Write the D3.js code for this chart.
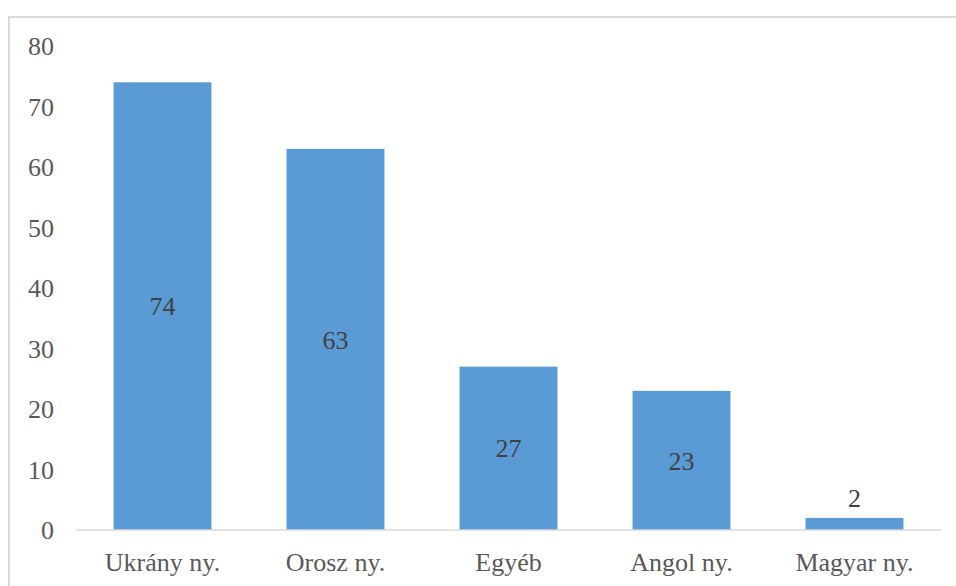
<!DOCTYPE html>
<html>
<head>
<meta charset="utf-8">
<script src="https://cdn.jsdelivr.net/npm/d3@7"></script>
<style>
  body { margin: 0; background: #fff; }
  svg { display: block; }
  text { font-family: "Liberation Serif", "Times New Roman", serif; }
</style>
</head>
<body>
<svg id="chart" width="956" height="586"></svg>
<script>
// data
const categories = ["Ukrány ny.", "Orosz ny.", "Egyéb", "Angol ny.", "Magyar ny."];
const values = [74, 63, 27, 23, 2];
const yTicks = [0, 10, 20, 30, 40, 50, 60, 70, 80];

var svg = d3.select("#chart"),
	width = +svg.attr("width"),
	height = +svg.attr("height");

// outer frame (runs off the right and bottom edge)
svg.append("rect")
	.attr("x", 9)
	.attr("y", 17)
	.attr("width", 960)
	.attr("height", 600)
	.attr("fill", "none")
	.attr("stroke", "#d9d9d9")
	.attr("stroke-width", 2);

var x = d3.scaleBand()
	.domain(categories)
	.range([76, 941])
	.paddingInner(0.434)
	.paddingOuter(0.217);

var y = d3.scaleLinear()
	.domain([0, 80])
	.range([530, 46]);

// y tick labels
svg.append("g")
	.selectAll("text")
	.data(yTicks)
	.enter().append("text")
		.attr("x", 54)
		.attr("y", function (d) { return y(d); })
		.attr("dy", "0.35em")
		.attr("text-anchor", "end")
		.style("font-size", "26px")
		.attr("fill", "#595959")
		.text(function (d) { return d; });

// bars
svg.append("g")
	.selectAll("rect")
	.data(values)
	.enter().append("rect")
		.attr("x", function (d, i) { return x(categories[i]); })
		.attr("y", function (d) { return y(d); })
		.attr("width", x.bandwidth())
		.attr("height", function (d) { return y(0) - y(d); })
		.attr("fill", "#5b9bd5");

// baseline
svg.append("line")
	.attr("x1", 76)
	.attr("x2", 941)
	.attr("y1", y(0))
	.attr("y2", y(0))
	.attr("stroke", "#d9d9d9")
	.attr("stroke-width", 1.5);

// value labels: centered inside, above when the bar is too short
svg.append("g")
	.selectAll("text")
	.data(values)
	.enter().append("text")
		.attr("x", function (d, i) { return x(categories[i]) + x.bandwidth() / 2; })
		.attr("y", function (d) {
			if (y(0) - y(d) < 40) return y(d) - 20;
			return (y(d) + y(0)) / 2;
		})
		.attr("dy", "0.35em")
		.attr("text-anchor", "middle")
		.style("font-size", "26px")
		.attr("fill", "#404040")
		.text(function (d) { return d; });

// category labels
svg.append("g")
	.selectAll("text")
	.data(categories)
	.enter().append("text")
		.attr("x", function (d) { return x(d) + x.bandwidth() / 2; })
		.attr("y", 571)
		.attr("text-anchor", "middle")
		.style("font-size", "26px")
		.attr("fill", "#595959")
		.text(function (d) { return d; });
</script>
</body>
</html>
